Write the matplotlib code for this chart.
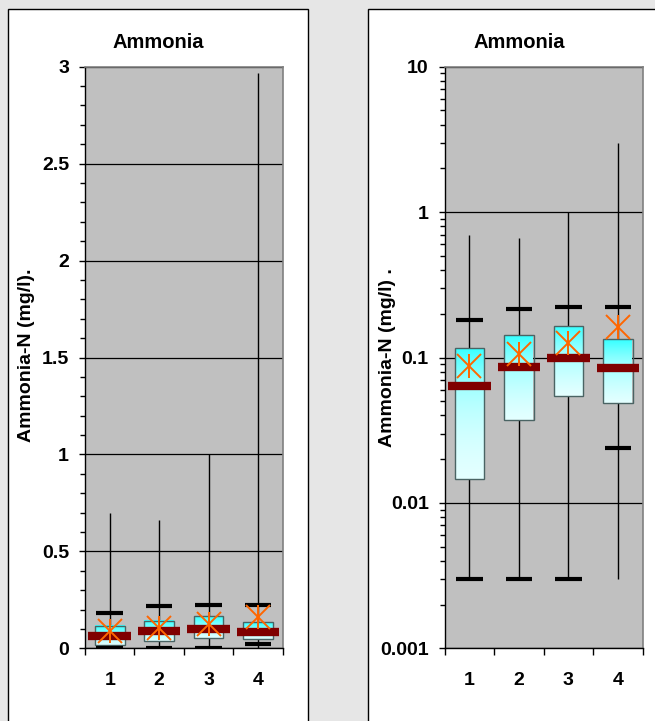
import numpy as np
import matplotlib
matplotlib.use("Agg")
import matplotlib.pyplot as plt
from matplotlib.patches import Rectangle
from matplotlib.colors import LinearSegmentedColormap
from matplotlib.ticker import MultipleLocator, FixedLocator, FixedFormatter, LogLocator, NullFormatter, FuncFormatter

# ---------------- data ----------------
categories = ["1", "2", "3", "4"]
minimum   = [0.003, 0.003, 0.003, 0.003]
low_cap   = [0.003, 0.003, 0.003, 0.0239]
q1        = [0.0145, 0.0371, 0.054, 0.049]
median    = [0.0638, 0.0867, 0.099, 0.0845]
mean      = [0.0872, 0.1065, 0.125, 0.1616]
q3        = [0.116, 0.1417, 0.165, 0.134]
high_cap  = [0.180, 0.216, 0.222, 0.222]
maximum   = [0.700, 0.664, 1.000, 2.97]

title = "Ammonia"
ylabel_lin = "Ammonia-N (mg/l)."
ylabel_log = "Ammonia-N (mg/l) ."
log_ticks = [0.001, 0.01, 0.1, 1, 10]
log_tick_labels = ["0.001", "0.01", "0.1", "1", "10"]

# ---------------- style ----------------
plt.rcParams['font.family'] = ['Liberation Sans', 'DejaVu Sans']
W, H = 655, 721
fig = plt.figure(figsize=(W / 100, H / 100), dpi=100)
fig.patch.set_facecolor('#e6e6e6')

def px_rect(x0, y0, x1, y1, **kw):
    return Rectangle((x0 / W, 1 - y1 / H), (x1 - x0) / W, (y1 - y0) / H,
                     transform=fig.transFigure, **kw)

fig.patches.append(px_rect(8, 9, 308, 730, facecolor='white', edgecolor='black', lw=1, zorder=-10))
fig.patches.append(px_rect(367.5, 9, 670, 730, facecolor='white', edgecolor='black', lw=1, zorder=-10))

grad_cmap = LinearSegmentedColormap.from_list('g', ['#e4ffff', '#9cffff', '#33ffff'])
gradient = np.linspace(0, 1, 256).reshape(-1, 1)

ax_y0 = 1 - 648.3 / H
ax_h = (648.3 - 66.7) / H
ax1 = fig.add_axes([85 / W, ax_y0, 197.7 / W, ax_h])
ax2 = fig.add_axes([444.7 / W, ax_y0, 198 / W, ax_h])

TICK_FS = 14

def draw(ax, log):
    x = np.arange(1, len(categories) + 1)
    ax.set_facecolor('#c0c0c0')
    if log:
        ax.set_yscale('log')
    ax.vlines(x, minimum, maximum, color='black', lw=1, zorder=2)
    bw = 0.6
    for xi, lo, hi in zip(x, q1, q3):
        ax.imshow(gradient, extent=[xi - bw / 2, xi + bw / 2, lo, hi], origin='lower',
                  cmap=grad_cmap, aspect='auto', zorder=3, interpolation='bilinear')
        r = Rectangle((xi - bw / 2, lo), bw, hi - lo, facecolor='none',
                      edgecolor='#4a6464', lw=1, zorder=4)
        ax.add_patch(r)
    ax.hlines(high_cap, x - 0.27, x + 0.27, color='black', lw=3, zorder=5)
    ax.hlines(low_cap, x - 0.27, x + 0.27, color='black', lw=3, zorder=5)
    ax.hlines(median, x - 0.43, x + 0.43, color='#800000', lw=6, zorder=6)
    ax.plot(x, mean, ls='none', marker='x', ms=17, mew=1.4, color='#ff6600', zorder=7)
    ax.plot(x, mean, ls='none', marker='|', ms=17, mew=1.4, color='#ff6600', zorder=7)

    ax.set_xlim(0.5, 4.5)
    if log:
        ax.set_ylim(0.001, 10)
        ax.yaxis.set_major_locator(FixedLocator(log_ticks))
        ax.yaxis.set_major_formatter(FixedFormatter(log_tick_labels))
        ax.yaxis.set_minor_locator(LogLocator(base=10, subs=np.arange(2, 10)))
        ax.yaxis.set_minor_formatter(NullFormatter())
    else:
        ax.set_ylim(0, 3)
        ax.yaxis.set_major_locator(MultipleLocator(0.5))
        ax.yaxis.set_minor_locator(MultipleLocator(0.1))
        ax.yaxis.set_major_formatter(FuncFormatter(lambda v, p: f"{v:g}"))
    ax.set_xticks(x)
    ax.set_xticklabels(categories)
    ax.set_xticks(np.arange(0.5, len(categories) + 1, 1.0), minor=True)
    ax.tick_params(axis='x', which='major', length=0, pad=17, labelsize=TICK_FS)
    ax.tick_params(axis='x', which='minor', length=4.8, width=1, direction='out', color='black')
    ax.tick_params(axis='y', which='major', length=4.5, width=1, pad=7, labelsize=TICK_FS, color='black')
    ax.tick_params(axis='y', which='minor', length=3.6, width=1, color='black')
    for lab in ax.get_xticklabels() + ax.get_yticklabels():
        lab.set_fontweight('bold')
    ax.set_axisbelow(True)
    ax.yaxis.grid(True, which='major', color='black', lw=0.9)
    ax.xaxis.grid(False)
    for s in ['left', 'bottom']:
        ax.spines[s].set_color('black')
        ax.spines[s].set_linewidth(1)
    for s in ['top', 'right']:
        ax.spines[s].set_color('#808080')
        ax.spines[s].set_linewidth(1.2)

draw(ax1, False)
draw(ax2, True)

fig.text(158 / W, 1 - 43 / H, title, ha='center', va='center', fontsize=14.5, fontweight='bold')
fig.text(519 / W, 1 - 43 / H, title, ha='center', va='center', fontsize=14.5, fontweight='bold')
fig.text(27 / W, 1 - 355.5 / H, ylabel_lin, ha='center', va='center', rotation=90,
         fontsize=14, fontweight='bold')
fig.text(387 / W, 1 - 357.5 / H, ylabel_log, ha='center', va='center', rotation=90,
         fontsize=14, fontweight='bold')

fig.savefig('out.png', dpi=100, facecolor=fig.get_facecolor())
